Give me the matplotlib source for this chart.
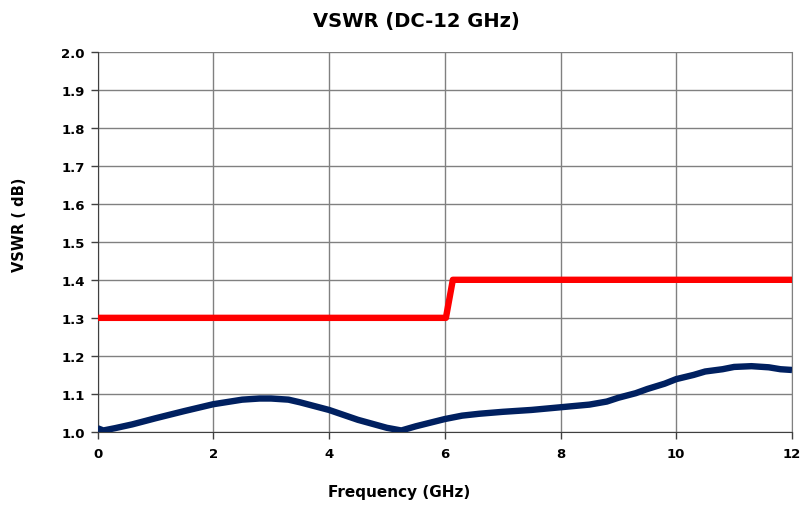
import matplotlib
matplotlib.use("Agg")
import matplotlib.pyplot as plt

# Measured VSWR (blue)
freq = [0.0, 0.1, 0.3, 0.6, 1.0, 1.5, 2.0, 2.5, 2.8, 3.0, 3.3, 3.5, 4.0, 4.5, 5.0, 5.25, 5.5,
        6.0, 6.3, 6.6, 7.0, 7.5, 8.0, 8.5, 8.8, 9.0, 9.3, 9.5, 9.8, 10.0, 10.3, 10.5, 10.8,
        11.0, 11.3, 11.6, 11.8, 12.0]
vswr = [1.010, 1.004, 1.010, 1.020, 1.036, 1.055, 1.073, 1.085, 1.088, 1.088, 1.085, 1.078,
        1.058, 1.032, 1.011, 1.004, 1.015, 1.034, 1.043, 1.048, 1.053, 1.058, 1.065, 1.072,
        1.080, 1.090, 1.102, 1.113, 1.127, 1.139, 1.150, 1.159, 1.165, 1.171, 1.173, 1.170,
        1.165, 1.163]

# Spec limit (red)
spec_freq = [0.0, 6.02, 6.14, 12.0]
spec_vswr = [1.30, 1.30, 1.40, 1.40]

xticks = [0, 2, 4, 6, 8, 10, 12]
yticks = [1.0, 1.1, 1.2, 1.3, 1.4, 1.5, 1.6, 1.7, 1.8, 1.9, 2.0]

W, H = 802, 506
fig = plt.figure(figsize=(W / 100, H / 100), dpi=100)
ax = fig.add_axes([97.5 / W, 1 - 433 / H, (792 - 97.5) / W, (433 - 52.5) / H])

ax.plot(spec_freq, spec_vswr, color="#ff0000", lw=4.6, solid_capstyle="butt", solid_joinstyle="round", zorder=3)
ax.plot(freq, vswr, color="#002060", lw=4.6, solid_capstyle="butt", solid_joinstyle="round", zorder=4)

ax.set_xlim(0, 12)
ax.set_ylim(1.0, 2.0)
ax.set_xticks(xticks)
ax.set_yticks(yticks)
ax.set_xticklabels([str(t) for t in xticks])
ax.set_yticklabels([f"{t:.1f}" for t in yticks])
for lbl in ax.get_xticklabels() + ax.get_yticklabels():
    lbl.set_fontweight("bold")
    lbl.set_fontsize(9.5)
ax.tick_params(axis="both", direction="out", length=5, width=1, color="#404040", pad=4)
ax.tick_params(axis="x", pad=6)

ax.grid(True, color="#808080", lw=1)
ax.set_axisbelow(True)
ax.spines["top"].set_visible(False)
ax.spines["right"].set_color("#808080")
ax.spines["left"].set_color("#404040")
ax.spines["bottom"].set_color("#404040")

fig.text(416 / W, 1 - 22 / H, "VSWR (DC-12 GHz)", fontsize=14, fontweight="bold",
         ha="center", va="center")
fig.text(399 / W, 1 - 493 / H, "Frequency (GHz)", fontsize=11, fontweight="bold",
         ha="center", va="center")
fig.text(20 / W, 1 - 225 / H, "VSWR ( dB)", fontsize=10.5, fontweight="bold",
         ha="center", va="center", rotation=90)

fig.savefig("out.png", dpi=100)
